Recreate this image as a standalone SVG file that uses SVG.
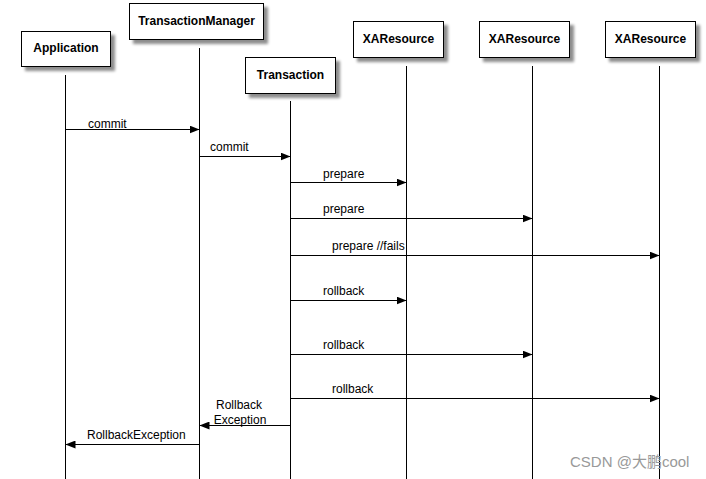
<svg xmlns="http://www.w3.org/2000/svg" width="706" height="479" viewBox="0 0 706 479">
<style>
.box{fill:#fff;stroke:#000;stroke-width:1;filter:url(#sh)}
.bt{font-family:"Liberation Sans",Arial,sans-serif;font-weight:bold;font-size:12px;text-anchor:middle}
.life{stroke:#000;stroke-width:1}
.msg{stroke:#000;stroke-width:1;marker-end:url(#ah)}
.ml{font-family:"Liberation Sans",Arial,sans-serif;font-size:12px}
</style>
<defs>
<filter id="sh" x="-20%" y="-30%" width="150%" height="180%">
<feGaussianBlur in="SourceAlpha" stdDeviation="1.5"/>
<feOffset dx="4" dy="4" result="b"/>
<feComponentTransfer><feFuncA type="linear" slope="0.45"/></feComponentTransfer>
<feMerge><feMergeNode/><feMergeNode in="SourceGraphic"/></feMerge>
</filter>
<marker id="ah" viewBox="0 0 10 8" refX="10" refY="4" markerWidth="10" markerHeight="8" markerUnits="userSpaceOnUse" orient="auto">
<path d="M0,0 L10,4 L0,8 z" fill="#000"/>
</marker>
</defs>
<rect width="706" height="479" fill="#fff"/>
<g id="lifelines">
<line class="life" x1="65.5" y1="75" x2="65.5" y2="479"/>
<line class="life" x1="199.5" y1="48" x2="199.5" y2="479"/>
<line class="life" x1="290.5" y1="101" x2="290.5" y2="479"/>
<line class="life" x1="406.5" y1="66" x2="406.5" y2="479"/>
<line class="life" x1="532.5" y1="66" x2="532.5" y2="479"/>
<line class="life" x1="659.5" y1="66" x2="659.5" y2="479"/>
</g>
<g id="node-application"><rect class="box" x="21.5" y="31.5" width="89" height="35"/><text class="bt" x="66" y="52">Application</text></g>
<g id="node-transactionmanager"><rect class="box" x="129.5" y="3.5" width="134" height="36"/><text class="bt" x="196.5" y="25">TransactionManager</text></g>
<g id="node-transaction"><rect class="box" x="245.5" y="57.5" width="90" height="36"/><text class="bt" x="290.5" y="79">Transaction</text></g>
<g id="node-xaresource1"><rect class="box" x="353.5" y="21.5" width="90" height="36"/><text class="bt" x="398.5" y="43">XAResource</text></g>
<g id="node-xaresource2"><rect class="box" x="479.5" y="21.5" width="90" height="36"/><text class="bt" x="524.5" y="43">XAResource</text></g>
<g id="node-xaresource3"><rect class="box" x="605.5" y="21.5" width="90" height="36"/><text class="bt" x="650.5" y="43">XAResource</text></g>
<g id="connectors">
<line class="msg" x1="65.5" y1="129.5" x2="199.5" y2="129.5"/>
<text class="ml" x="88" y="128">commit</text>
<line class="msg" x1="199.5" y1="156.5" x2="290.5" y2="156.5"/>
<text class="ml" x="210" y="151">commit</text>
<line class="msg" x1="290.5" y1="182.5" x2="406.5" y2="182.5"/>
<text class="ml" x="323" y="178">prepare</text>
<line class="msg" x1="290.5" y1="218.5" x2="532.5" y2="218.5"/>
<text class="ml" x="323" y="213">prepare</text>
<line class="msg" x1="290.5" y1="255.5" x2="659.5" y2="255.5"/>
<text class="ml" x="332" y="250">prepare //fails</text>
<line class="msg" x1="290.5" y1="300.5" x2="406.5" y2="300.5"/>
<text class="ml" x="323" y="295">rollback</text>
<line class="msg" x1="290.5" y1="354.5" x2="532.5" y2="354.5"/>
<text class="ml" x="323" y="349">rollback</text>
<line class="msg" x1="290.5" y1="398.5" x2="659.5" y2="398.5"/>
<text class="ml" x="332" y="393">rollback</text>
<line class="msg" x1="290.5" y1="425.5" x2="199.5" y2="425.5"/>
<text class="ml" x="239" y="409" text-anchor="middle">Rollback</text>
<text class="ml" x="240" y="424" text-anchor="middle">Exception</text>
<line class="msg" x1="199.5" y1="444.5" x2="65.5" y2="444.5"/>
<text class="ml" x="87" y="439">RollbackException</text>
</g>
<text x="570" y="467" font-family="'Liberation Sans','Noto Sans CJK SC',sans-serif" font-size="15" fill="#999">CSDN @大鹏cool</text>
</svg>
